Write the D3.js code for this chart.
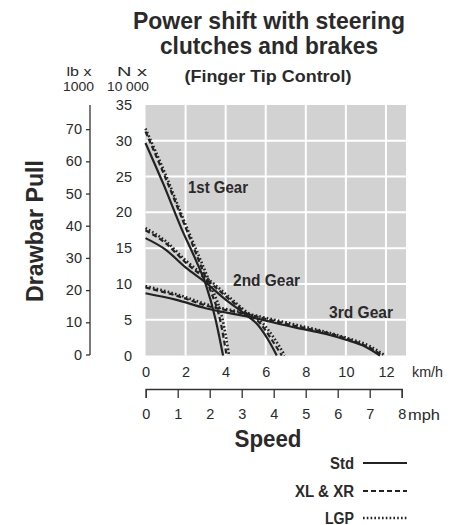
<!DOCTYPE html>
<html>
<head>
<meta charset="utf-8">
<script src="https://cdn.jsdelivr.net/npm/d3@7"></script>
<style>
  body { margin: 0; background: #fff; }
  svg text { font-family: "Liberation Sans Narrow", "Liberation Sans", Arial, sans-serif; fill: #2a2a2a; }
  .bold { font-weight: bold; }
</style>
</head>
<body>
<div id="chart"></div>
<script>
// tick labels
var kmhTicks = [0, 2, 4, 6, 8, 10, 12];
var mphTicks = [0, 1, 2, 3, 4, 5, 6, 7, 8];
var newtonTicks = [0, 5, 10, 15, 20, 25, 30, 35];
var poundTicks = [0, 10, 20, 30, 40, 50, 60, 70];

// curves: [km/h, N x 10 000]
var firstStd = [[0, 29.7], [0.9, 23.9], [1.8, 17.7], [2.5, 13.4], [3.0, 10], [3.5, 5], [3.87, 0]];
var firstXl = [[0, 31.3], [1, 24.8], [2, 17.9], [2.7, 13], [3.2, 9.4], [3.72, 5], [4.05, 0]];
var firstLgp = [[0, 31.7], [1, 25.3], [2, 18.3], [2.8, 13], [3.3, 9.5], [3.85, 5], [4.17, 0]];

var secondStd = [[0, 16.4], [1, 14.8], [2, 12.3], [3, 10.2], [4, 7.8], [5, 5.7], [5.6, 4.3], [6.1, 2.3], [6.55, 0]];
var secondXl = [[0, 17.5], [1, 15.7], [2, 13], [3, 10.7], [4, 8.3], [5, 6.0], [5.75, 4.4], [6.3, 2.2], [6.8, 0]];
var secondLgp = [[0, 17.8], [1, 16], [2, 13.3], [3, 11], [4, 8.6], [5, 6.2], [5.85, 4.5], [6.45, 2.3], [6.95, 0]];

var thirdStd = [[0, 8.7], [1.5, 7.8], [3, 6.6], [5, 5.5], [7.5, 3.9], [9, 3.0], [10, 2.2], [11, 1.2], [11.7, 0]];
var thirdXl = [[0, 9.5], [1.5, 8.4], [3, 7.0], [5, 5.8], [7.5, 4.1], [9, 3.2], [10, 2.4], [11.1, 1.2], [11.85, 0]];
var thirdLgp = [[0, 9.7], [1.5, 8.6], [3, 7.2], [5, 5.9], [7.5, 4.3], [9, 3.3], [10, 2.5], [11.2, 1.3], [11.95, 0]];

var gearLabels = [
  { text: '1st Gear', kmh: 2.12, pull: 22.7, len: 60 },
  { text: '2nd Gear', kmh: 4.37, pull: 9.75, len: 67 },
  { text: '3rd Gear', kmh: 9.16, pull: 5.3, len: 64 }
];

var legendItems = [
  { name: 'Std', dash: null, width: 2.2, len: 24 },
  { name: 'XL & XR', dash: '5,3', width: 2.2, len: 59 },
  { name: 'LGP', dash: '1.6,2.2', width: 2.6, len: 29 }
];

var series = [
  { data: firstStd, style: 0 }, { data: firstXl, style: 1 }, { data: firstLgp, style: 2 },
  { data: secondStd, style: 0 }, { data: secondXl, style: 1 }, { data: secondLgp, style: 2 },
  { data: thirdStd, style: 0 }, { data: thirdXl, style: 1 }, { data: thirdLgp, style: 2 }
];

var svg = d3.select('#chart')
  .append('svg')
  .attr('width', 460)
  .attr('height', 525);

//scales
var x = d3.scaleLinear().domain([0, 13]).range([145.5, 406]);
var y = d3.scaleLinear().domain([0, 35]).range([355.5, 105]);
var yLb = d3.scaleLinear().domain([0, 77.5]).range([354.5, 105]);
var xMph = d3.scaleLinear().domain([0, 8]).range([145.7, 401.7]);

//helper for squeezed condensed text
function label(parent, px, py, str, size, bold, anchor, len) {
  var t = parent.append('text')
    .attr('x', px).attr('y', py)
    .attr('text-anchor', anchor || 'start')
    .style('font-size', size + 'px')
    .text(str);
  if (bold) t.attr('class', 'bold');
  if (len) t.attr('textLength', len).attr('lengthAdjust', 'spacingAndGlyphs');
  return t;
}

//title
label(svg, 269, 29, 'Power shift with steering', 24, true, 'middle', 272);
label(svg, 269, 54, 'clutches and brakes', 24, true, 'middle', 218);
label(svg, 268, 82, '(Finger Tip Control)', 16.5, true, 'middle', 167);

//unit captions
label(svg, 79, 76, 'lb x', 13.5, false, 'middle', 25);
label(svg, 78.5, 91, '1000', 13.5, false, 'middle', 31);
label(svg, 132, 76, 'N x', 13.5, false, 'middle', 30);
label(svg, 128, 91, '10 000', 13.5, false, 'middle', 42);

//plot background
svg.append('rect')
  .attr('x', x(0)).attr('y', y(35))
  .attr('width', x(13) - x(0)).attr('height', y(0) - y(35))
  .attr('fill', '#d2d2d2');

//grid
var grid = svg.append('g');
grid.selectAll('line.v')
  .data(kmhTicks.filter(function(d) { return d > 0; }))
  .enter()
  .append('line')
  .attr('x1', function(d) { return x(d); })
  .attr('x2', function(d) { return x(d); })
  .attr('y1', y(35)).attr('y2', y(0))
  .attr('stroke', '#fff').attr('stroke-width', 2);
grid.selectAll('line.h')
  .data(newtonTicks.filter(function(d) { return d > 0 && d < 35; }))
  .enter()
  .append('line')
  .attr('x1', x(0)).attr('x2', x(13))
  .attr('y1', function(d) { return y(d); })
  .attr('y2', function(d) { return y(d); })
  .attr('stroke', '#fff').attr('stroke-width', 2);

//N axis (labels only)
var nAxis = svg.append('g')
  .attr('transform', 'translate(132,0)')
  .call(d3.axisLeft(y).tickValues(newtonTicks).tickSize(0).tickPadding(0));
nAxis.select('.domain').remove();
nAxis.selectAll('text').style('font-size', '14.5px').attr('fill', null);

//lb axis
var lbAxis = svg.append('g')
  .attr('transform', 'translate(90,0)')
  .call(d3.axisLeft(yLb).tickValues(poundTicks).tickSize(4).tickSizeOuter(0).tickPadding(4));
lbAxis.select('.domain').attr('d', 'M0,105V355').attr('stroke', '#333').attr('stroke-width', 1.3);
lbAxis.selectAll('line').attr('stroke', '#333').attr('stroke-width', 1.3);
lbAxis.selectAll('text').style('font-size', '14.5px').attr('fill', null);

//km/h axis
var kmhAxis = svg.append('g')
  .attr('transform', 'translate(0,' + y(0) + ')')
  .call(d3.axisBottom(x).tickValues(kmhTicks).tickSize(0).tickPadding(11));
kmhAxis.select('.domain').remove();
kmhAxis.selectAll('text').style('font-size', '14.5px').attr('fill', null);
label(svg, 412, 377, 'km/h', 14.5, false, 'start', 31);

//mph axis
var mphAxis = svg.append('g')
  .attr('transform', 'translate(0,389)')
  .call(d3.axisBottom(xMph).tickValues(mphTicks).tickSize(9).tickSizeOuter(9).tickPadding(11));
mphAxis.selectAll('path, line').attr('stroke', '#333').attr('stroke-width', 1.3);
mphAxis.selectAll('text').style('font-size', '14.5px').attr('fill', null);
label(svg, 408, 420, 'mph', 14.5, false, 'start', 32);

//axis titles
label(svg, 268, 447, 'Speed', 24, true, 'middle', 67);
label(svg, 0, 0, 'Drawbar Pull', 24.5, true, 'middle', 142)
  .attr('transform', 'translate(43,231) rotate(-90)');

//curves
var line = d3.line()
  .x(function(d) { return x(d[0]); })
  .y(function(d) { return y(d[1]); })
  .curve(d3.curveMonotoneX);

svg.append('g').selectAll('path')
  .data(series)
  .enter()
  .append('path')
  .attr('d', function(d) { return line(d.data); })
  .attr('fill', 'none')
  .attr('stroke', '#222')
  .attr('stroke-width', function(d) { return legendItems[d.style].width; })
  .attr('stroke-dasharray', function(d) { return legendItems[d.style].dash; });

//gear labels
var gearGroup = svg.append('g');
gearLabels.forEach(function(d) {
  label(gearGroup, x(d.kmh), y(d.pull), d.text, 16, true, 'start', d.len);
});

//legend
var legendY = [463, 491, 518];
legendItems.forEach(function(d, i) {
  label(svg, 354, legendY[i] + 5.5, d.name, 16, true, 'end', d.len);
  svg.append('line')
    .attr('x1', 363).attr('x2', 407)
    .attr('y1', legendY[i]).attr('y2', legendY[i])
    .attr('stroke', '#222')
    .attr('stroke-width', d.width)
    .attr('stroke-dasharray', d.dash);
});
</script>
</body>
</html>
